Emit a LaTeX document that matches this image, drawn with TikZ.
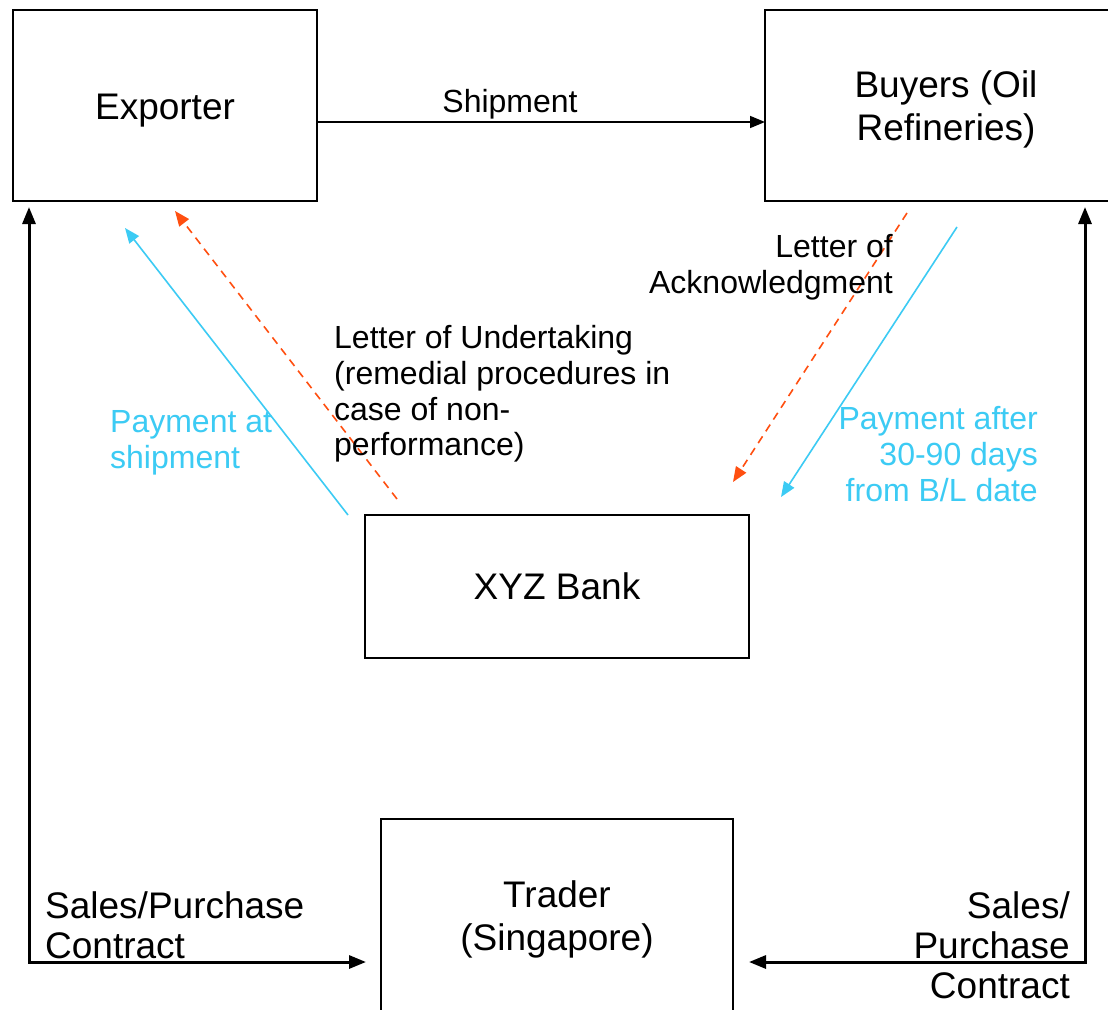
\documentclass[tikz,border=0pt]{standalone}
\usepackage{fontspec}
\setmainfont{Liberation Sans}
\usetikzlibrary{arrows.meta,calc}
\definecolor{payblue}{HTML}{3CCBF4}
\definecolor{letorange}{HTML}{FF4F10}
\begin{document}
\begin{tikzpicture}[x=1pt,y=-1pt,
  box/.style={draw,line width=1.8pt,rectangle,inner sep=0pt},
  boxtext/.style={inner sep=0pt,align=center,font=\fontsize{37}{43}\selectfont},
  lbl/.style={inner sep=0pt,font=\fontsize{32}{35.7}\selectfont},
  biglbl/.style={inner sep=0pt,font=\fontsize{37}{40}\selectfont},
  thinarrow/.style={line width=1.6pt,-{Triangle[length=15pt,width=12pt]}},
  thickarrow/.style={line width=3pt,{Triangle[length=17pt,width=13pt]}-{Triangle[length=17pt,width=13pt]}},
  dasharrow/.style={line width=1.6pt,dash pattern=on 8pt off 6pt,-{Triangle[length=15pt,width=12pt]}}]
\useasboundingbox (0,0) rectangle (1108,1009);
\fill[white] (0,0) rectangle (1108,1009);
% boxes
\node[box,minimum width=304pt,minimum height=191pt] (exp) at (165,105.5) {};
\node[boxtext] (expT) at ($(exp.center)+(0,5)$) {Exporter};
\node[box,minimum width=362pt,minimum height=191pt] (buy) at (946,105.5) {};
\node[boxtext] (buyT) at ($(buy.center)+(0,4)$) {Buyers (Oil\\Refineries)};
\node[box,minimum width=384pt,minimum height=143pt] (bank) at (557,586.5) {};
\node[boxtext] (bankT) at (bank.center) {XYZ Bank};
\node[box,minimum width=352pt,minimum height=194pt] (trader) at (557,916) {};
\node[boxtext] (traderT) at ($(trader.center)+(0,3)$) {Trader\\(Singapore)};
% shipment
\coordinate (shipS) at (317,122);
\coordinate (shipE) at (765,122);
\draw[thinarrow] (shipS) -- (shipE);
\node[lbl] (shiplbl) at (510,104) {Shipment};
% contracts
\coordinate (lTop) at (29,207);
\coordinate (lCorner) at (29,962);
\coordinate (lEnd) at (366,962);
\draw[thickarrow] (lTop) -- (lCorner) -- (lEnd);
\coordinate (rTop) at (1085,207);
\coordinate (rCorner) at (1085,962);
\coordinate (rEnd) at (749,962);
\draw[thickarrow] (rTop) -- (rCorner) -- (rEnd);
% diagonals
\coordinate (b1s) at (348,515);
\coordinate (b1e) at (125,228);
\draw[thinarrow,payblue] (b1s) -- (b1e);
\coordinate (o1s) at (397,499);
\coordinate (o1e) at (175,211);
\draw[dasharrow,letorange] (o1s) -- (o1e);
\coordinate (o2s) at (907,213);
\coordinate (o2e) at (733,482);
\draw[dasharrow,letorange] (o2s) -- (o2e);
\coordinate (b2s) at (957,227);
\coordinate (b2e) at (781,497);
\draw[thinarrow,payblue] (b2s) -- (b2e);
% labels
\node[lbl,anchor=west,align=left] (undert) at (334,394) {Letter of Undertaking\\(remedial procedures in\\case of non-\\performance)};
\node[lbl,anchor=west,align=left,text=payblue] (payship) at (110,443) {Payment at\\shipment};
\node[lbl,anchor=east,align=right] (ack) at (893,267) {Letter of\\Acknowledgment};
\node[lbl,anchor=east,align=right,text=payblue] (payafter) at (1038,454) {Payment after\\30-90 days\\from B/L date};
\node[biglbl,anchor=west,align=left] (sp1) at (45,925) {Sales/Purchase\\Contract};
\node[biglbl,anchor=east,align=right] (sp2) at (1070,945) {Sales/\\Purchase\\Contract};
\end{tikzpicture}
\end{document}
